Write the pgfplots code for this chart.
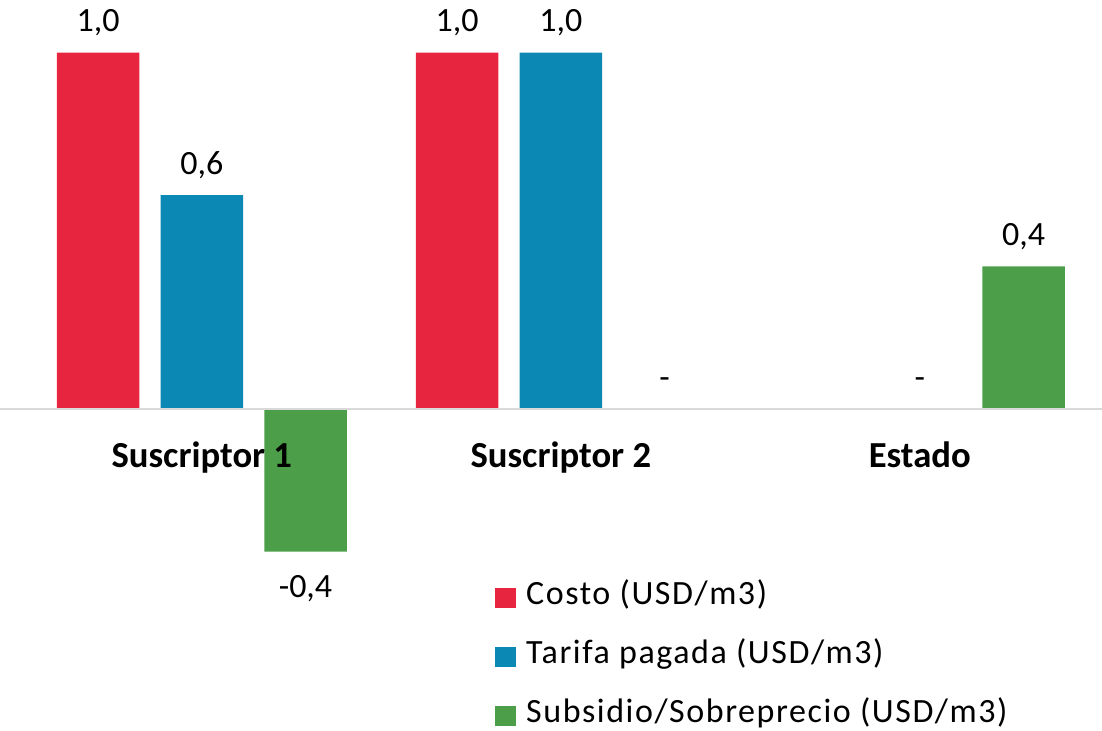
\documentclass[border=0pt]{standalone}
\usepackage{pgfplots}
\pgfplotsset{compat=1.18}
\usepackage{fontspec}
\setmainfont{Carlito}
\newfontfamily\legfont[LetterSpace=4.6]{Carlito}
\definecolor{cRed}{HTML}{E8253F}
\definecolor{cBlue}{HTML}{0B89B4}
\definecolor{cGreen}{HTML}{4C9F48}
\definecolor{cAxis}{HTML}{D9D9D9}
\pgfplotsset{sq/.style={legend image code/.code={\fill (0pt,-12.8pt) rectangle (15.4pt,2.2pt);}}}
\begin{document}
\begin{tikzpicture}
\begin{axis}[
  scale only axis, width=826.5pt, height=548.25pt,
  xmin=-0.5621, xmax=2.5075, ymin=-0.9032, ymax=1.1473,
  axis x line=middle, axis y line=none,
  x axis line style={-, draw=cAxis, line width=1.2pt},
  xtick={0,1,2}, xticklabels={Suscriptor 1,Suscriptor 2,Estado},
  major tick length=0pt,
  xticklabel style={font=\fontsize{27.5}{33}\selectfont\bfseries, anchor=base, yshift=-43.5pt},
  ytick=\empty,
  ybar, bar width=61.9pt,
  axis on top,
  clip=false,
  nodes near coords={\pgfplotspointmeta},
  point meta=explicit symbolic,
  visualization depends on={rawy \as \rawy},
  every node near coord/.append style={font=\fontsize{25.5}{30}\selectfont, text=black, anchor=base, yshift={(\rawy<0)?-34.7:15.5}},
  legend style={draw=none, fill=none, at={(rel axis cs:0.4492,0.2124)}, anchor=north west,
    inner sep=0pt, outer sep=0pt, row sep=20pt, column sep=8pt,
    font=\legfont\fontsize{25.5}{30.6}\selectfont, nodes={inner sep=0pt, text=black}},
  legend cell align=left,
]
\addplot[fill=cRed, draw=none, bar shift=-77.8pt, sq] table[x=x, y=y, meta=label] {
x y label
0 1.0 1,0
1 1.0 1,0
};
\addlegendentry{\strut Costo (USD/m3)}
\addplot[fill=cBlue, draw=none, bar shift=0pt, sq] table[x=x, y=y, meta=label] {
x y label
0 0.6 0,6
1 1.0 1,0
2 0.0 -
};
\addlegendentry{\strut Tarifa pagada (USD/m3)}
\addplot[fill=cGreen, draw=none, bar shift=77.8pt, sq] table[x=x, y=y, meta=label] {
x y label
0 -0.4 -0,4
1 0.0 -
2 0.4 0,4
};
\addlegendentry{\strut Subsidio/Sobreprecio (USD/m3)}
\end{axis}
\pgfresetboundingbox
\path (current axis.south west) rectangle (current axis.north east);
\end{tikzpicture}
\end{document}
